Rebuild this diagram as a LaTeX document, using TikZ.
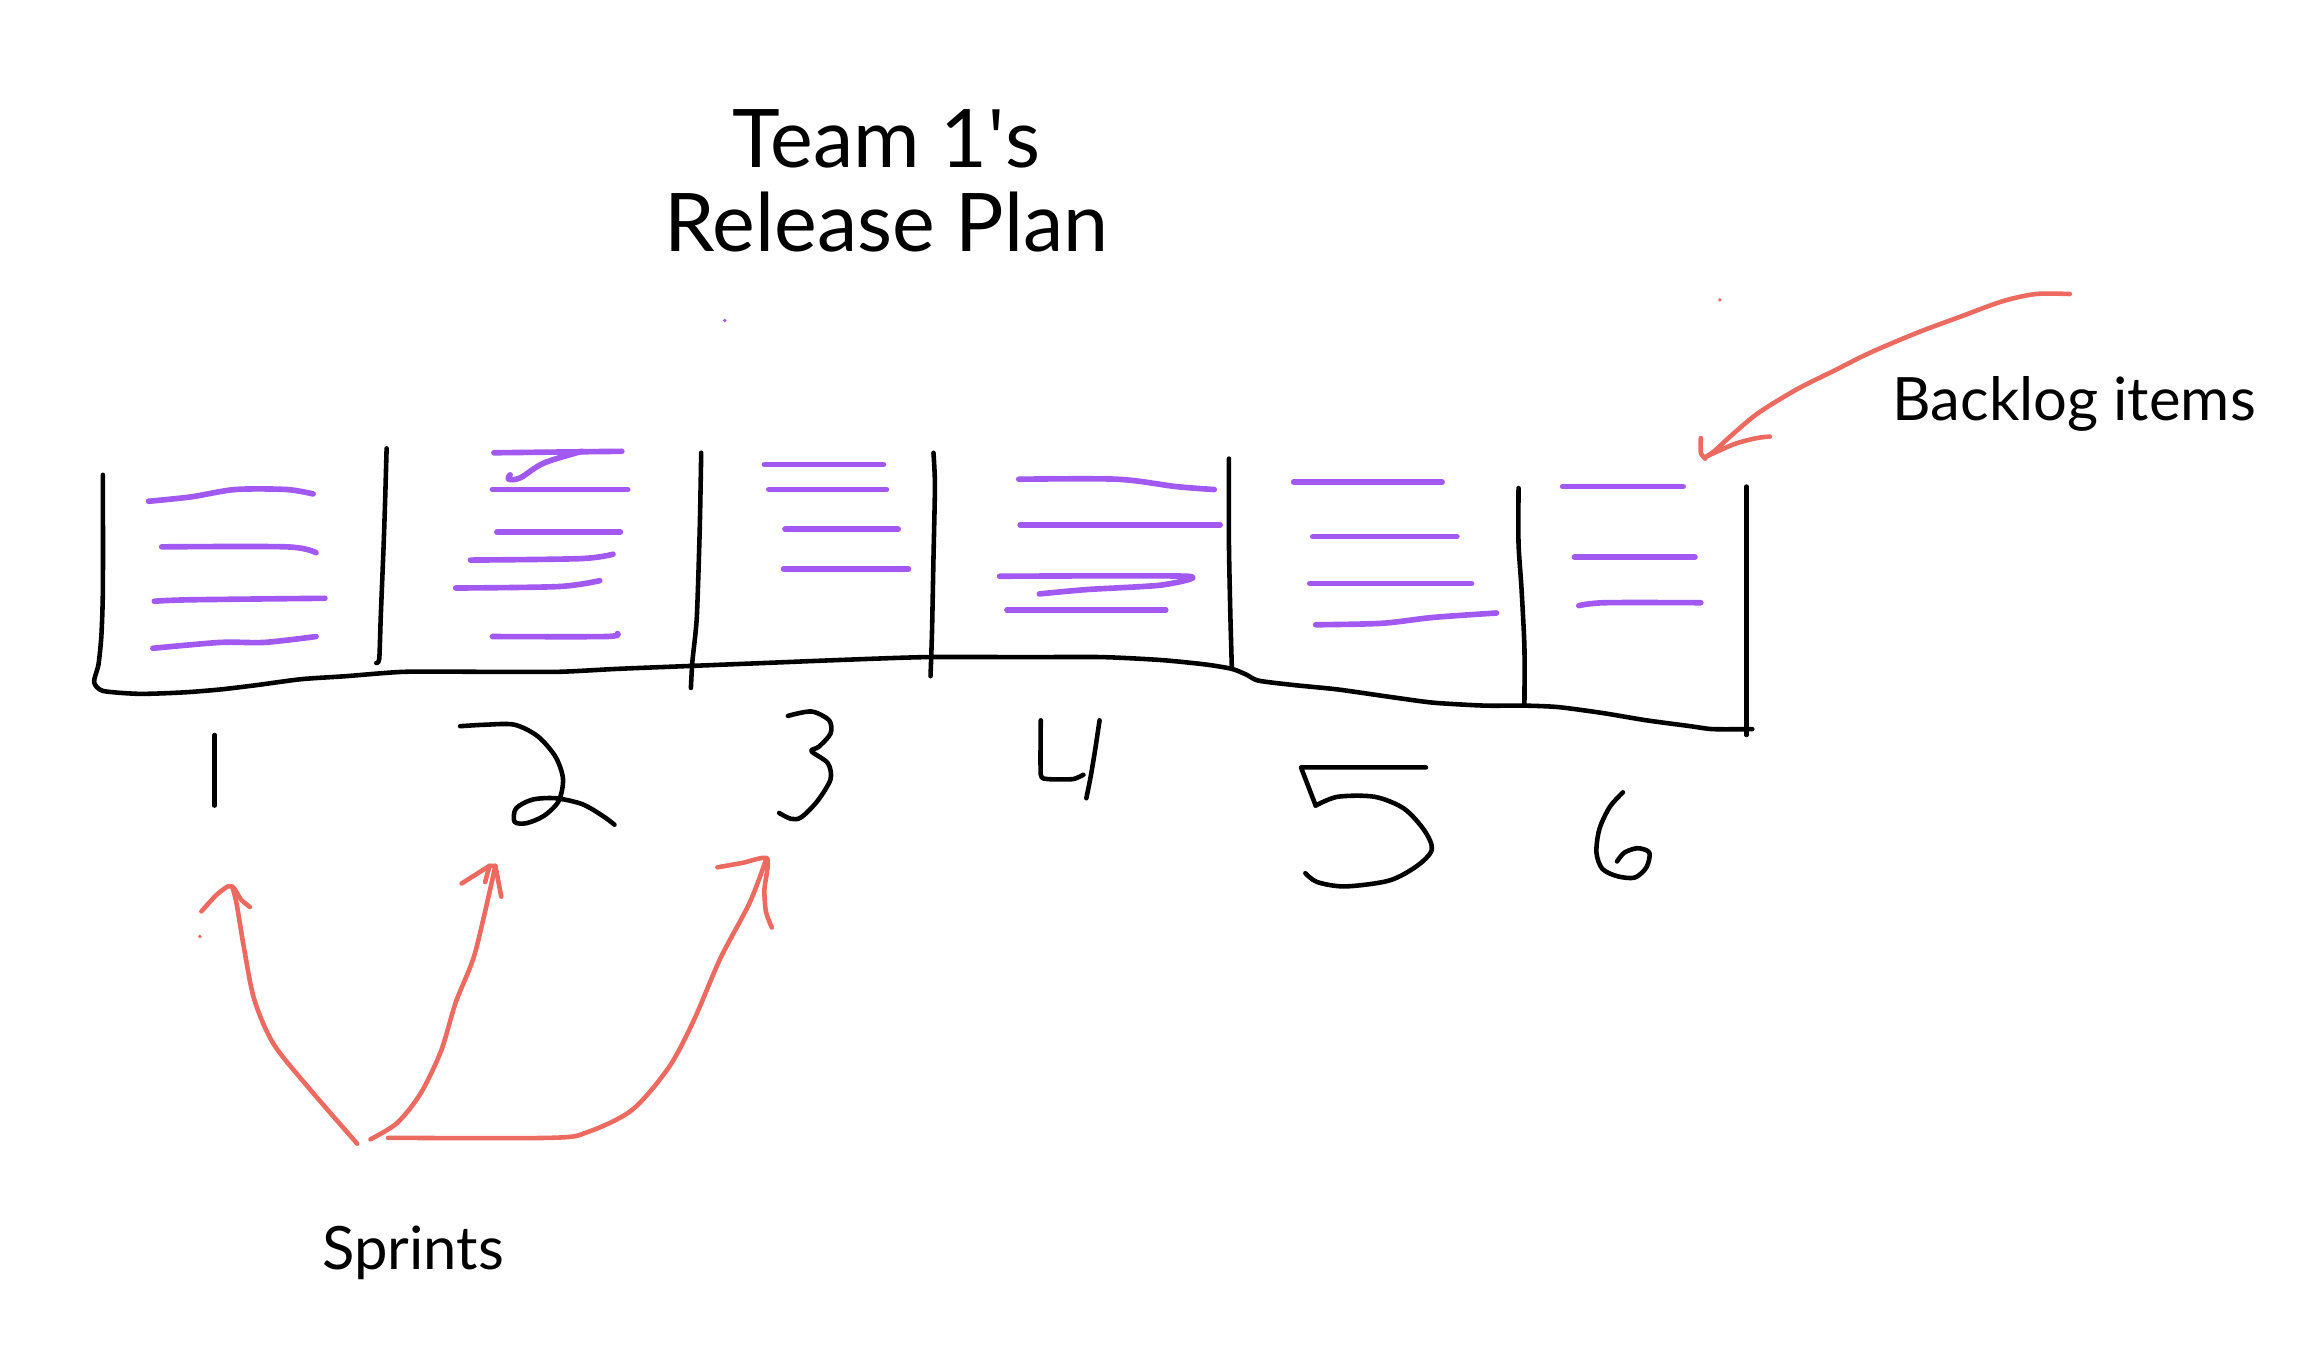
\documentclass[tikz,border=0pt]{standalone}
\usepackage{fontspec}
\setmainfont{Lato}
\newfontfamily\qtfont{Open Sans}
\definecolor{lav}{HTML}{A259F2}
\definecolor{coral}{HTML}{EC6A60}
\begin{document}
\begin{tikzpicture}[x=0.0147cm,y=-0.0147cm,
  blk/.style={black, line width=1.3pt, line cap=round, line join=round},
  pur/.style={lav, line width=1.6pt, line cap=round, line join=round},
  redp/.style={coral, line width=1.3pt, line cap=round, line join=round},
  lbl/.style={inner sep=0pt, font=\fontsize{17}{20}\selectfont}]
\useasboundingbox (0,0) rectangle (1568,918.35);

% title and labels
\node[align=center, inner sep=0pt, font=\fontsize{23}{24}\selectfont] (title) at (603,123) {Team 1{\qtfont\char"0027}s\\Release Plan};
\node[lbl] (backlog) at (1411,275) {Backlog items};
\node[lbl] (sprints) at (281,852) {Sprints};

% column frame
\draw[blk] plot[smooth, tension=0.4] coordinates {(70,323) (70,400) (69,432) (67,452) (64,464) (70,470) (95,472) (125,471) (150,469) (175,466) (205,462) (235,460) (275,457) (330,457) (380,457) (420,455) (470,453) (520,451) (570,449) (630,447) (700,447) (750,447) (790,449) (820,452) (838,455) (848,459) (856,463) (880,466) (910,469) (945,474) (975,478) (1010,480) (1037,480) (1060,481) (1090,485) (1120,490) (1150,494) (1165,496) (1192,496)};
\draw[blk] plot[smooth, tension=0.4] coordinates {(263,305) (262,340) (261,370) (259,420) (258,448) (256,451)};
\draw[blk] plot[smooth, tension=0.4] coordinates {(477,308) (476,360) (474,420) (471,450) (470,468)};
\draw[blk] plot[smooth, tension=0.4] coordinates {(635,308) (636,330) (635,380) (634,430) (633,460)};
\draw[blk] plot[smooth, tension=0.4] coordinates {(836,312) (836,370) (837,420) (838,455)};
\draw[blk] plot[smooth, tension=0.4] coordinates {(1033,332) (1033,370) (1035,400) (1037,440) (1037,480)};
\draw[blk] (1188,331) -- (1188,500);

% backlog items, column 1
\draw[pur] plot[smooth, tension=0.5] coordinates {(101,341) (130,338) (160,333) (195,333) (213,336)};
\draw[pur] plot[smooth, tension=0.5] coordinates {(110,372) (195,372) (215,376)};
\draw[pur] plot[smooth, tension=0.5] coordinates {(105,409) (130,408) (221,407)};
\draw[pur] plot[smooth, tension=0.5] coordinates {(104,441) (150,437) (180,437) (215,433)};
% column 2
\draw[pur] (336,308) -- (423,307);
\draw[pur] plot[smooth, tension=0.6] coordinates {(347,323) (346,326) (354,325) (370,315) (396,307)};
\draw[pur] (335,333) -- (427,333);
\draw[pur] (338,362) -- (422,362);
\draw[pur] plot[smooth, tension=0.5] coordinates {(320,381) (395,380) (417,377)};
\draw[pur] plot[smooth, tension=0.5] coordinates {(310,400) (380,399) (408,395)};
\draw[pur] plot[smooth, tension=0.5] coordinates {(335,433) (412,433) (420,431)};
% column 3
\draw[pur] (520,316) -- (601,316);
\draw[pur] (523,333) -- (603,333);
\draw[pur] (534,360) -- (611,360);
\draw[pur] (533,387) -- (618,387);
% column 4
\draw[pur] plot[smooth, tension=0.5] coordinates {(693,326) (760,326) (800,331) (826,333)};
\draw[pur] (694,357) -- (830,357);
\draw[pur] plot[smooth, tension=0.4] coordinates {(680,392) (808,392) (790,398) (740,401) (707,404)};
\draw[pur] (685,415) -- (793,415);
% column 5
\draw[pur] (880,328) -- (981,328);
\draw[pur] (893,365) -- (991,365);
\draw[pur] (891,397) -- (1001,397);
\draw[pur] plot[smooth, tension=0.5] coordinates {(895,425) (940,424) (975,420) (1018,417)};
% column 6
\draw[pur] (1063,331) -- (1145,331);
\draw[pur] (1071,379) -- (1153,379);
\draw[pur] plot[smooth, tension=0.5] coordinates {(1074,412) (1092,410) (1157,410)};
\fill[lav] (493,218) circle (1.3);

% sprint numbers
\draw[blk] (146,500) -- (146,548);
\draw[blk] plot[smooth, tension=0.5] coordinates {(313,494) (330,493) (350,493) (366,501) (378,515) (383,530) (380,545) (370,555) (358,560) (350,559) (351,550) (362,544) (378,543) (396,547) (410,555) (418,561)};
\draw[blk] plot[smooth, tension=0.5] coordinates {(536,487) (552,484) (564,490) (565,499) (557,508) (552,511) (563,519) (565,530) (556,545) (545,556) (538,557) (530,553)};
\draw[blk] plot[smooth, tension=0.3] coordinates {(708,490) (708,527) (713,530) (730,530) (737,527)};
\draw[blk] plot[smooth, tension=0.3] coordinates {(748,490) (745,510) (742,528) (739,543)};
\draw[blk] (970,522) -- (885,522) -- (895,548);
\draw[blk] plot[smooth, tension=0.5] coordinates {(895,548) (910,542) (935,542) (955,550) (969,565) (974,578) (964,589) (945,599) (915,603) (896,600) (888,594)};
\draw[blk] plot[smooth, tension=0.5] coordinates {(1104,539) (1095,549) (1088,564) (1086,580) (1090,591) (1100,596) (1112,597) (1120,590) (1122,580) (1114,577) (1105,580) (1100,586)};

% sprint arrows
\coordinate (o1) at (243,778);
\coordinate (o2) at (252,775);
\coordinate (o3) at (264,774);
\coordinate (t1) at (158,603);
\coordinate (t2) at (337,589);
\coordinate (t3) at (521,585);
\draw[redp] plot[smooth, tension=0.5] coordinates {(o1) (210,740) (186,710) (173,680) (166,645) (161,615) (t1)};
\draw[redp] plot[smooth, tension=0.4] coordinates {(137,620) (147,609) (155,603) (159,604) (164,612) (170,617)};
\draw[redp] plot[smooth, tension=0.5] coordinates {(o2) (270,764) (286,744) (300,715) (310,682) (322,652) (330,620) (t2)};
\draw[redp] (314,601) -- (333,589) -- (337,589) -- (341,610);
\draw[redp] (333,589) -- (330,600);
\draw[redp] plot[smooth, tension=0.5] coordinates {(o3) (375,774) (400,770) (430,755) (455,726) (472,694) (490,652) (510,614) (t3)};
\draw[redp] plot[smooth, tension=0.4] coordinates {(488,590) (505,587) (522,584) (520,605) (521,620) (525,631)};
\fill[coral] (136,637) circle (1.3);

% backlog arrow
\coordinate (b0) at (1408,200);
\coordinate (b1) at (1160,311);
\draw[redp] plot[smooth, tension=0.5] coordinates {(b0) (1385,200) (1362,205) (1332,216) (1305,226) (1272,240) (1248,252) (1222,265) (1196,281) (1178,296) (1166,307) (b1)};
\draw[redp] plot[smooth, tension=0.4] coordinates {(1157,298) (1157,308) (1160,312)};
\draw[redp] plot[smooth, tension=0.5] coordinates {(1162,310) (1180,302) (1195,298) (1204,297)};
\fill[coral] (1170,204) circle (1.3);
\end{tikzpicture}
\end{document}
